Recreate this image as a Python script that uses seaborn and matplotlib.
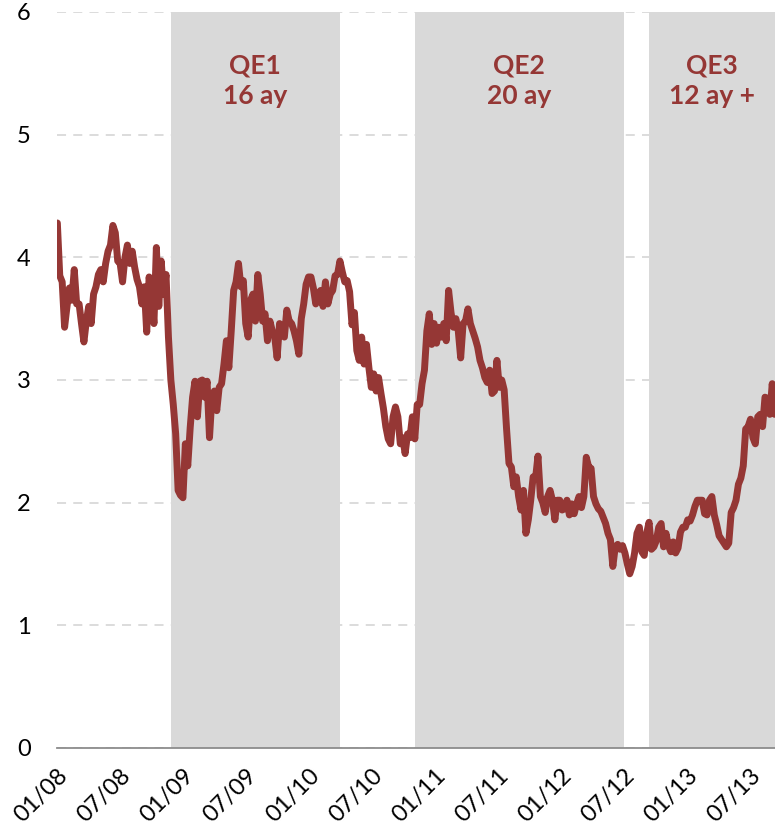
import matplotlib
matplotlib.use('Agg')
import matplotlib.pyplot as plt
import matplotlib.dates as mdates
import seaborn as sns
import pandas as pd

# Haftalık 10 yıllık tahvil faizi (%)
start_date = '2008-01-02'
yields = [
    4.28, 3.85, 3.8, 3.43, 3.6, 3.75, 3.65, 3.9, 3.62, 3.62,
    3.46, 3.31, 3.48, 3.6, 3.46, 3.7, 3.76, 3.86, 3.9, 3.8,
    3.95, 4.05, 4.1, 4.26, 4.2, 3.97, 3.95, 3.8, 4.0, 4.1,
    3.95, 4.05, 3.92, 3.82, 3.76, 3.62, 3.76, 3.39, 3.84, 3.7,
    3.46, 4.08, 3.6, 3.97, 3.7, 3.86, 3.35, 3.0, 2.8, 2.56,
    2.1, 2.06, 2.04, 2.48, 2.3,
    2.61, 2.86, 2.99, 2.7, 2.99, 3.0, 2.86, 2.99, 2.53, 2.86,
    2.91, 2.75, 2.94, 2.97, 3.13, 3.32, 3.1, 3.4, 3.73, 3.8,
    3.95, 3.76, 3.81, 3.46, 3.35, 3.65, 3.7, 3.48, 3.86, 3.7,
    3.48, 3.54, 3.32, 3.48, 3.4, 3.35, 3.18, 3.46, 3.4, 3.35,
    3.57, 3.48, 3.46, 3.4, 3.32, 3.21, 3.5, 3.62, 3.78, 3.84,
    3.84, 3.75, 3.62,
    3.7, 3.73, 3.6, 3.8, 3.62, 3.7, 3.73, 3.85, 3.86, 3.97,
    3.88, 3.8, 3.81, 3.72, 3.45, 3.55, 3.24, 3.16, 3.35, 3.13,
    3.29, 3.1, 2.94, 3.05, 2.91, 3.02, 2.89, 2.77, 2.62, 2.52,
    2.48, 2.7, 2.78, 2.7, 2.48, 2.53, 2.4, 2.56, 2.53, 2.7,
    2.52, 2.8, 2.8, 2.97, 3.08, 3.4, 3.54, 3.29, 3.46, 3.3,
    3.43, 3.35, 3.46, 3.32, 3.73,
    3.55, 3.43, 3.5, 3.4, 3.18, 3.46, 3.48, 3.58, 3.46, 3.4,
    3.34, 3.27, 3.16, 3.1, 3.02, 2.98, 3.08, 2.89, 2.91, 3.16,
    2.94, 3.0, 2.92, 2.6, 2.32, 2.29, 2.13, 2.21, 2.05, 1.94,
    2.1, 1.75, 1.86, 2.02, 2.21, 2.2, 2.38, 2.05, 2.0, 1.92,
    2.05, 2.1, 2.02, 1.86, 2.02, 2.02, 1.94, 1.95, 2.02, 1.9,
    1.99, 1.91, 1.99, 2.05, 1.96, 2.05, 2.37, 2.29, 2.28, 2.05,
    1.99, 1.95, 1.93, 1.88, 1.83, 1.75, 1.7, 1.48, 1.64, 1.66,
    1.62, 1.65, 1.59, 1.5, 1.42, 1.48, 1.59, 1.75, 1.8, 1.6,
    1.57, 1.75, 1.84, 1.62, 1.64, 1.69, 1.8, 1.83, 1.64, 1.75,
    1.65, 1.6, 1.68, 1.59, 1.63, 1.76, 1.8, 1.8, 1.86, 1.85,
    1.9, 1.97, 2.02, 2.02, 2.02, 1.91, 1.9, 2.02, 2.05, 1.9,
    1.82, 1.73, 1.7, 1.67, 1.64, 1.67, 1.92, 1.96, 2.02, 2.15,
    2.2, 2.3, 2.6, 2.62, 2.68, 2.53, 2.48, 2.7, 2.72, 2.62,
    2.86, 2.85, 2.72, 2.97, 2.72,
]

# QE dönemleri
qe_starts = ['2008-11-25', '2010-11-03', '2012-09-13']
qe_ends = ['2010-03-31', '2012-06-30', '2013-09-12']
qe_labels = ['QE1\n16 ay', 'QE2\n20 ay', 'QE3\n12 ay +']

x_start, x_end = '2008-01-01', '2013-09-12'
tick_dates = pd.date_range('2008-01-01', '2013-07-01', freq='6MS')

kirmizi = '#953735'
gri_golge = '#d9d9d9'

df = pd.DataFrame({
    'Tarih': pd.date_range(start_date, periods=len(yields), freq='7D'),
    'Faiz': yields,
})

sns.set_style('white')
plt.rcParams['font.family'] = ['Lato', 'DejaVu Sans']

fig = plt.figure(figsize=(7.75, 8.33), dpi=100)
ax = fig.add_axes([57 / 775, 1 - 748 / 833, 1 - 57 / 775, (748 - 12) / 833])

for s, e, lab in zip(qe_starts, qe_ends, qe_labels):
    s, e = pd.Timestamp(s), pd.Timestamp(e)
    ax.axvspan(s, e, color=gri_golge, lw=0, zorder=1)
    ax.text(s + (e - s) / 2, 5.44, lab, ha='center', va='center',
            fontsize=19, fontweight='bold', color=kirmizi,
            linespacing=1.3, zorder=4)

sns.lineplot(data=df, x='Tarih', y='Faiz', color=kirmizi, lw=5, ax=ax,
             zorder=3, solid_joinstyle='round', solid_capstyle='round')

ax.set_xlim(pd.Timestamp(x_start), pd.Timestamp(x_end))
ax.set_ylim(0, 6)
ax.set_yticks(range(0, 7))
ax.yaxis.grid(True, linestyle=(0, (5, 4)), color=gri_golge, lw=1.3, zorder=0)
ax.set_axisbelow(True)

ax.set_xticks(tick_dates)
ax.xaxis.set_major_formatter(mdates.DateFormatter('%m/%y'))
plt.setp(ax.get_xticklabels(), rotation=45, ha='right', rotation_mode='anchor')

ax.set_xlabel('')
ax.set_ylabel('')
for side in ['top', 'right', 'left']:
    ax.spines[side].set_visible(False)
ax.spines['bottom'].set_color('#8c8c8c')
ax.spines['bottom'].set_linewidth(1.3)
ax.spines['bottom'].set_zorder(5)
ax.tick_params(axis='x', colors='#8c8c8c', length=9, width=1.3, direction='out',
               labelcolor='black', labelsize=17, pad=3)
ax.tick_params(axis='y', length=0, labelsize=17, pad=19, labelcolor='black')

plt.savefig('out.png', dpi=100)
